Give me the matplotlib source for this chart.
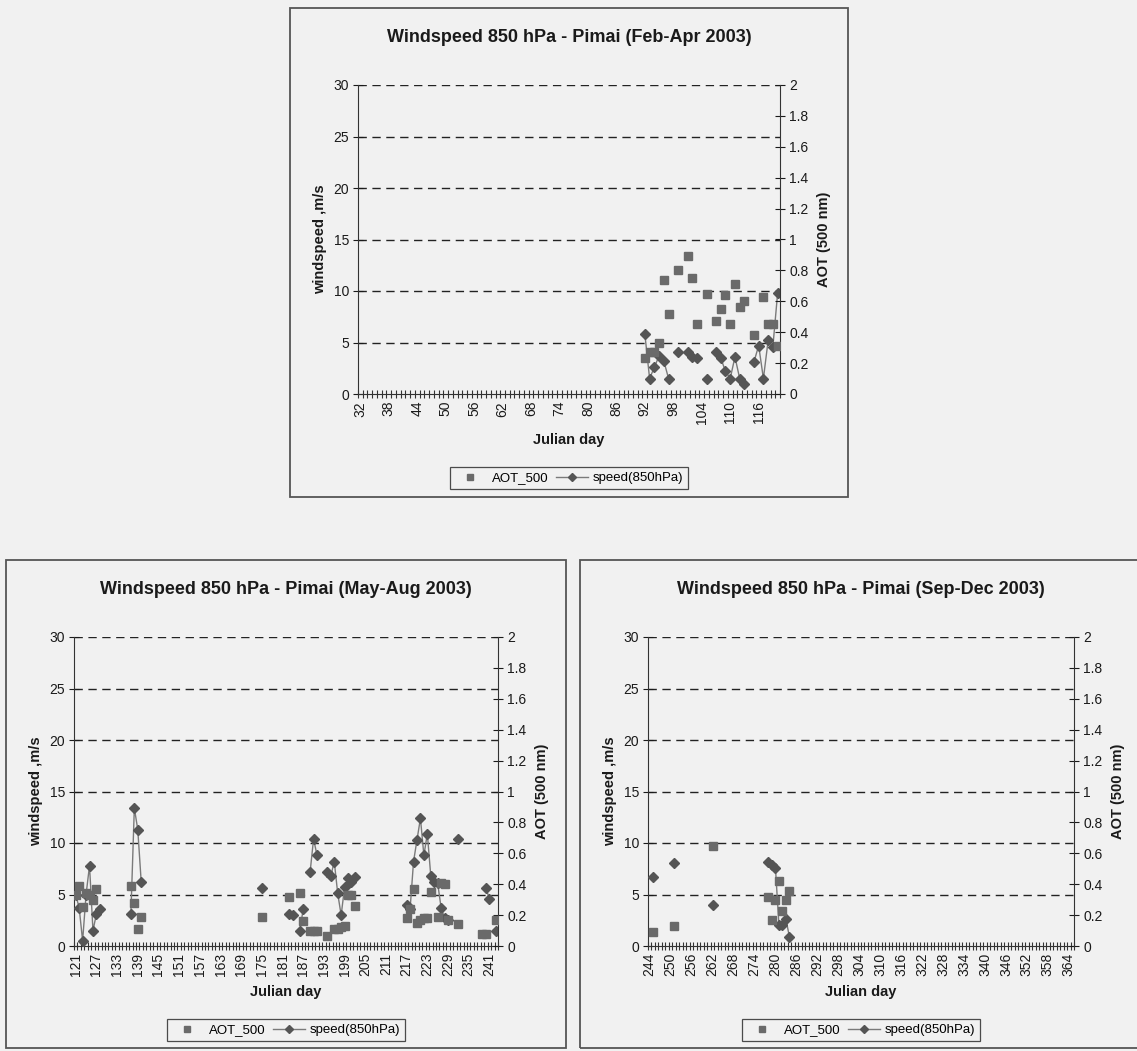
import numpy as np
import pandas as pd
import matplotlib
matplotlib.use('Agg')
import matplotlib.pyplot as plt
from matplotlib.patches import Rectangle
from matplotlib.lines import Line2D

plt.rcParams['font.family'] = ['Liberation Sans', 'DejaVu Sans']

W, H = 1137, 1051
BG = '#f1f1f1'

# ---- Feb-Apr 2003 ----
feb_aot_days = [92, 93, 94, 95, 96, 97, 99, 101, 102, 103, 105, 107, 108, 109, 110,
                111, 112, 113, 115, 117, 118, 119, 120]
feb_aot = [0.23, 0.27, 0.27, 0.33, 0.74, 0.52, 0.80, 0.89, 0.75, 0.45, 0.65, 0.47, 0.55,
           0.64, 0.45, 0.71, 0.56, 0.60, 0.38, 0.63, 0.45, 0.45, 0.31]
feb_spd_days = [92, 93, 94, 95, 96, 97, 99, 101, 102, 103, 105, 107, 108, 109, 110,
                111, 112, 113, 115, 116, 117, 118, 119, 120]
feb_spd = [5.8, 1.5, 2.6, 3.7, 3.2, 1.5, 4.1, 4.1, 3.6, 3.5, 1.5, 4.1, 3.5, 2.2, 1.5,
           3.6, 1.5, 1.0, 3.1, 4.7, 1.5, 5.2, 4.6, 9.8]

# ---- May-Aug 2003 ----
may_aot_days = [121, 122, 123, 124, 125, 126, 127, 137, 138, 139, 140, 175,
                183, 186, 187, 189, 190, 191, 194, 196, 197, 198, 199, 200, 201, 202,
                217, 218, 219, 220, 221, 222, 223, 224, 226, 227, 228, 229, 232,
                239, 240, 243]
may_aot = [0.33, 0.39, 0.25, 0.34, 0.33, 0.30, 0.37, 0.39, 0.28, 0.11, 0.19, 0.19,
           0.32, 0.34, 0.16, 0.10, 0.10, 0.10, 0.065, 0.11, 0.11, 0.12, 0.13, 0.33, 0.33, 0.26,
           0.18, 0.24, 0.37, 0.15, 0.17, 0.18, 0.18, 0.35, 0.19, 0.41, 0.40, 0.17, 0.145,
           0.075, 0.08, 0.17]
may_spd_days = [121, 122, 123, 124, 125, 126, 127, 128, 137, 138, 139, 140, 175,
                183, 184, 186, 187, 189, 190, 191, 194, 195, 196, 197, 198, 199, 200, 201, 202,
                217, 218, 219, 220, 221, 222, 223, 224, 225, 226, 227, 228, 229, 232,
                240, 241, 243]
may_spd = [5.0, 3.7, 0.5, 5.0, 7.8, 1.5, 3.1, 3.6, 3.1, 13.4, 11.3, 6.2, 5.6,
           3.1, 3.0, 1.5, 3.6, 7.2, 10.4, 8.8, 7.2, 6.8, 8.2, 5.1, 3.0, 5.7, 6.6, 6.2, 6.7,
           4.0, 3.6, 8.2, 10.3, 12.4, 8.8, 10.9, 6.8, 6.2, 6.1, 3.7, 2.7, 2.5, 10.4,
           5.6, 4.6, 1.5]

# ---- Sep-Dec 2003 ----
sep_aot_days = [245, 251, 262, 278, 279, 280, 281, 282, 283, 284]
sep_aot = [0.09, 0.13, 0.645, 0.32, 0.17, 0.30, 0.42, 0.225, 0.30, 0.355]
sep_spd_days = [245, 251, 262, 278, 279, 280, 281, 282, 283, 284]
sep_spd = [6.7, 8.1, 4.0, 8.2, 7.9, 7.6, 2.0, 2.0, 2.6, 0.9]

aot_ticks = [0, 0.2, 0.4, 0.6, 0.8, 1, 1.2, 1.4, 1.6, 1.8, 2]

fig = plt.figure(figsize=(W / 100, H / 100), dpi=100, facecolor=BG)


def panel(box, title, first, last, aot_days, aot, spd_days, spd):
    bx0, by0, bx1, by1 = box
    fig.patches.append(Rectangle((bx0 / W, 1 - by1 / H), (bx1 - bx0) / W, (by1 - by0) / H,
                                 transform=fig.transFigure, fill=False,
                                 edgecolor='#555555', lw=1.3))
    x0, x1 = bx0 + 68, bx1 - 68
    y0, y1 = by0 + 77, by0 + 386
    ax = fig.add_axes([x0 / W, 1 - y1 / H, (x1 - x0) / W, (y1 - y0) / H])
    ax.set_facecolor(BG)
    ax2 = ax.twinx()

    ax.set_xlim(first - 0.5, last + 0.5)
    ax.set_ylim(0, 30)
    ax2.set_ylim(0, 2)

    # dashed gridlines
    for v in range(5, 31, 5):
        ax.axhline(v, color='#222222', lw=1.0, ls=(0, (6, 4)), zorder=1)

    for s in ['top', 'right']:
        ax.spines[s].set_visible(False)
    for s in ['top', 'left', 'bottom']:
        ax2.spines[s].set_visible(False)
    ax.spines['left'].set_color('#333333')
    ax.spines['bottom'].set_color('#333333')
    ax2.spines['right'].set_color('#333333')

    ax.set_yticks(range(0, 31, 5))
    ax.tick_params(axis='y', direction='inout', length=7, labelsize=10,
                   colors='#1a1a1a', pad=3)
    ax2.set_yticks(aot_ticks)
    ax2.set_yticklabels([f'{t:g}' for t in aot_ticks])
    ax2.tick_params(axis='y', direction='inout', length=7, labelsize=10,
                    colors='#1a1a1a', pad=3)

    ax.set_xticks(np.arange(first - 0.5, last + 1), minor=True)
    ax.set_xticks(np.arange(first, last + 1, 6))
    ax.tick_params(axis='x', which='minor', direction='inout', length=6,
                   color='#333333', width=0.8)
    ax.tick_params(axis='x', which='major', length=0, labelsize=10,
                   labelrotation=90, colors='#1a1a1a', pad=5)

    # speed line with gaps where days are missing
    s = pd.Series(spd, index=spd_days).reindex(range(first, last + 1))
    ax.plot(s.index, s.values, color='#7a7a7a', lw=1.0, marker='D', ms=5.5,
            mfc='#555555', mec='#555555', zorder=3)
    ax2.plot(aot_days, aot, ls='none', marker='s', ms=5.8, color='#6a6a6a', zorder=4)

    cx = (bx0 + bx1) / 2
    fig.text(cx / W, 1 - (by0 + 30) / H, title, ha='center', va='center',
             fontsize=13, fontweight='bold', color='#1a1a1a')
    fig.text((x0 + x1) / 2 / W, 1 - (by0 + 432) / H, 'Julian day', ha='center',
             va='center', fontsize=10.5, fontweight='bold', color='#1a1a1a')
    fig.text((x0 - 38) / W, 1 - (y0 + y1) / 2 / H, 'windspeed ,m/s', ha='center',
             va='center', rotation=90, fontsize=10.5, fontweight='bold', color='#1a1a1a')
    fig.text((x1 + 44) / W, 1 - (y0 + y1) / 2 / H, 'AOT (500 nm)', ha='center',
             va='center', rotation=90, fontsize=10.5, fontweight='bold', color='#1a1a1a')

    handles = [Line2D([], [], ls='none', marker='s', ms=4.5, color='#6a6a6a'),
               Line2D([], [], color='#7a7a7a', lw=1.0, marker='D', ms=4.5,
                      mfc='#555555', mec='#555555')]
    leg = fig.legend(handles, ['AOT_500', 'speed(850hPa)'], loc='center',
                     bbox_to_anchor=(cx / W, 1 - (by0 + 470) / H), ncol=2,
                     fontsize=9.5, frameon=True, fancybox=False, edgecolor='#222222',
                     facecolor=BG, handlelength=2.4, columnspacing=0.6,
                     handletextpad=0.4, borderpad=0.35)
    leg.get_frame().set_linewidth(0.9)


panel((290, 8, 848, 497), 'Windspeed 850 hPa - Pimai (Feb-Apr 2003)', 32, 120,
      feb_aot_days, feb_aot, feb_spd_days, feb_spd)
panel((6, 560, 566, 1048), 'Windspeed 850 hPa - Pimai (May-Aug 2003)', 121, 243,
      may_aot_days, may_aot, may_spd_days, may_spd)
panel((580, 560, 1142, 1048), 'Windspeed 850 hPa - Pimai (Sep-Dec 2003)', 244, 365,
      sep_aot_days, sep_aot, sep_spd_days, sep_spd)

fig.savefig('out.png', dpi=100, facecolor=BG)
